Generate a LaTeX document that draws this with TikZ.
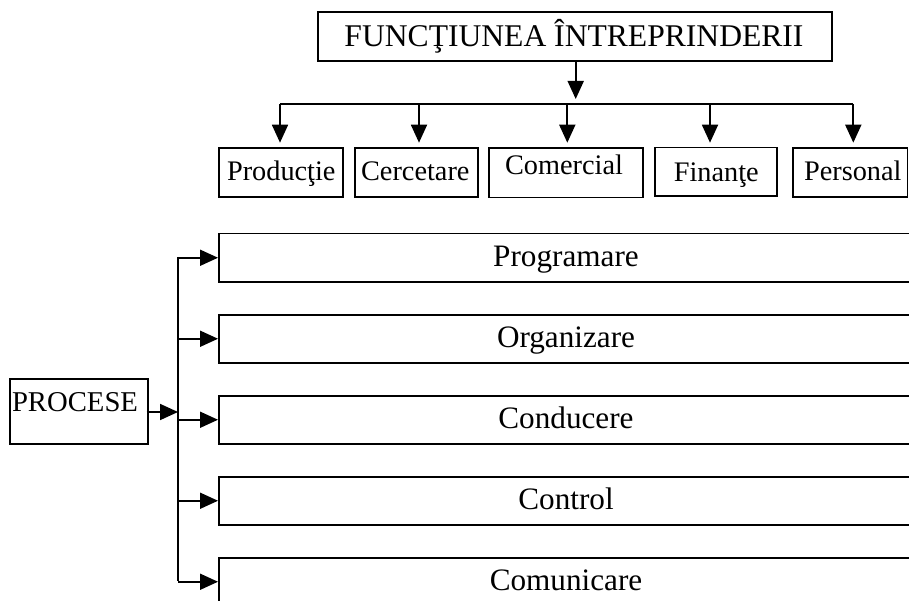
\documentclass[tikz,border=0pt]{standalone}
\usepackage{fontspec}
\setmainfont{Liberation Serif}
\usetikzlibrary{arrows.meta}
\begin{document}
\begin{tikzpicture}[x=1pt,y=-1pt,
  box/.style={draw, line width=1.8pt, inner sep=0pt, anchor=north west},
  lbl/.style={anchor=base, inner sep=0pt},
  conn/.style={line width=1.8pt},
  arr/.style={conn, -{Triangle[length=18pt,width=16pt]}},
  ttl/.style={lbl, font=\fontsize{31.6}{33}\selectfont},
  fn/.style={lbl, font=\fontsize{28.3}{30}\selectfont},
  pr/.style={lbl, font=\fontsize{31.2}{32}\selectfont}]
\useasboundingbox (0,0) rectangle (909,601);
\clip (0,0) rectangle (909,601);

% title box
\node[box, minimum width=514pt, minimum height=49pt] (top) at (316.7,11) {};
\node[ttl] (topt) at (574,46.7) {FUNCŢIUNEA ÎNTREPRINDERII};

% function boxes
\node[box, minimum width=123.4pt, minimum height=48.7pt] (f1) at (218.3,147.3) {};
\node[box, minimum width=122.7pt, minimum height=48.7pt] (f2) at (354,147.3) {};
\node[box, minimum width=153.4pt, minimum height=49.4pt] (f3) at (488.3,147.3) {};
\node[box, minimum width=122pt, minimum height=48.3pt] (f4) at (654,146.7) {};
\node[box, minimum width=114.8pt, minimum height=48.7pt] (f5) at (791.7,147.3) {};
\node[fn] (f1t) at (281.3,180.7) {Producţie};
\node[fn] (f2t) at (415.3,180.7) {Cercetare};
\node[fn] (f3t) at (564,175) {Comercial};
\node[fn] (f4t) at (716.3,181.7) {Finanţe};
\node[fn] (f5t) at (852.8,180.7) {Personal};

% distribution bus
\coordinate (tip) at (575.7,99);
\coordinate (busL) at (280,103.8);
\coordinate (busR) at (853.3,103.8);
\draw[arr] (top.south -| tip) -- (tip);
\draw[conn] (busL) -- (busR);
\foreach \n/\x in {1/280,2/419,3/567.3,4/710,5/853.3}
  \draw[arr] (\x,103.8) -- (\x,142.7);

% processes
\node[box, minimum width=137.7pt, minimum height=65.6pt] (proc) at (9,377.7) {};
\node[lbl, font=\fontsize{28.7}{30}\selectfont] (proct) at (75,411.7) {PROCESE};
\coordinate (spT) at (178,256.8);
\coordinate (spB) at (178,580.8);
\draw[conn] (spT) -- (spB);
\draw[arr] (146.7,412) -- (178,412);

\foreach \n/\yy/\t in {1/232.7/Programare,2/313.7/Organizare,3/394.7/Conducere,4/475.7/Control,5/556.7/Comunicare}{
  \node[box, minimum width=720pt, minimum height=48.3pt] (p\n) at (218,\yy) {};
  \node[pr] (p\n t) at (566,\yy+34) {\t};
  \draw[arr] (spT |- p\n.west) -- (p\n.west);
}
\end{tikzpicture}
\end{document}
